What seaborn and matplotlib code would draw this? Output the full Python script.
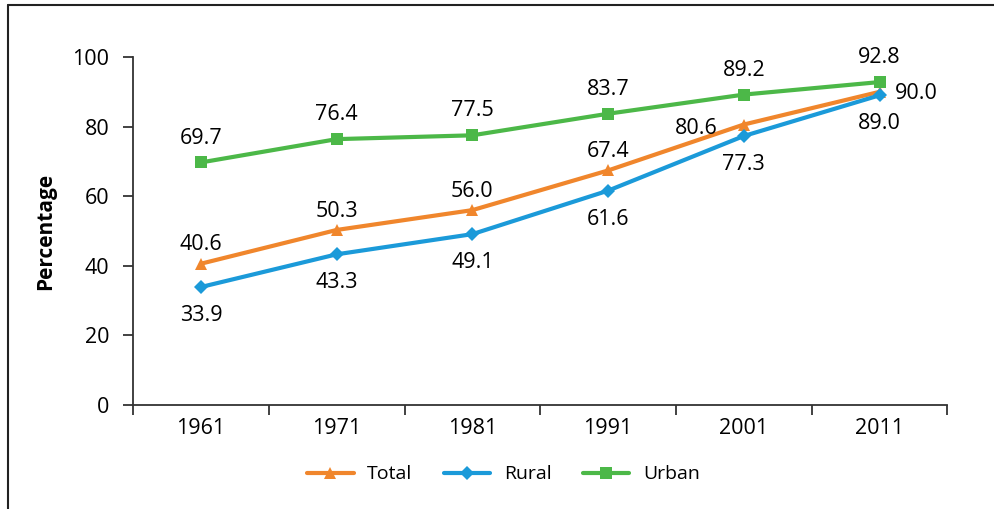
import matplotlib
matplotlib.use("Agg")
import matplotlib.pyplot as plt
import seaborn as sns
import pandas as pd
from matplotlib.lines import Line2D

# data
years = ["1961", "1971", "1981", "1991", "2001", "2011"]
total = [40.6, 50.3, 56.0, 67.4, 80.6, 90.0]
rural = [33.9, 43.3, 49.1, 61.6, 77.3, 89.0]
urban = [69.7, 76.4, 77.5, 83.7, 89.2, 92.8]

series_names = ["Total", "Rural", "Urban"]
colors = {"Total": "#F0862C", "Rural": "#1B9AD9", "Urban": "#4CB848"}
markers = {"Total": "^", "Rural": "D", "Urban": "s"}

sns.set_theme(style="white")
plt.rcParams["font.family"] = ["Open Sans", "DejaVu Sans"]
plt.rcParams["text.color"] = "black"
plt.rcParams["axes.labelcolor"] = "black"

rows = []
for name, vals in zip(series_names, [total, rural, urban]):
    for i, v in enumerate(vals):
        rows.append({"x": i, "year": years[i], "value": v, "series": name})
df = pd.DataFrame(rows)

fig = plt.figure(figsize=(9.95, 5.09), dpi=100)
ax = fig.add_axes([0.1337, 0.2043, 0.8185, 0.6837])

for name in series_names:
    sub = df[df["series"] == name]
    ms = 9 if name == "Total" else (7 if name == "Rural" else 8)
    sns.lineplot(data=sub, x="x", y="value", ax=ax, color=colors[name],
                 marker=markers[name], markersize=ms, markeredgewidth=0,
                 linewidth=3, label=name)

fs = 15.5
# value labels
for i, v in enumerate(urban):
    ax.annotate(f"{v:.1f}", (i, v), xytext=(0, 10), textcoords="offset points",
                ha="center", va="bottom", fontsize=fs)
for i, v in enumerate(rural):
    ax.annotate(f"{v:.1f}", (i, v), xytext=(0, -13), textcoords="offset points",
                ha="center", va="top", fontsize=fs)
for i, v in enumerate(total):
    if i == 4:
        ax.annotate(f"{v:.1f}", (i, v), xytext=(-34, -3), textcoords="offset points",
                    ha="center", va="center", fontsize=fs)
    elif i == 5:
        ax.annotate(f"{v:.1f}", (i, v), xytext=(11, -1), textcoords="offset points",
                    ha="left", va="center", fontsize=fs)
    else:
        ax.annotate(f"{v:.1f}", (i, v), xytext=(0, 6), textcoords="offset points",
                    ha="center", va="bottom", fontsize=fs)

ax.set_xlim(-0.5, len(years) - 0.5)
ax.set_ylim(0, 100)
ax.set_yticks(range(0, 101, 20))
ax.set_xticks(range(len(years)))
ax.set_xticklabels(years)
ax.set_xticks([i - 0.5 for i in range(len(years) + 1)], minor=True)
ax.tick_params(axis="x", which="major", length=0, pad=9, labelsize=fs,
               labelcolor="black")
ax.tick_params(axis="x", which="minor", length=7, width=1.3, color="#333333",
               direction="out", bottom=True)
ax.tick_params(axis="y", length=7, width=1.3, color="#333333", direction="out",
               left=True, pad=10, labelsize=fs, labelcolor="black")
ax.set_xlabel("")
ax.set_ylabel("Percentage", fontsize=15, fontweight="bold", labelpad=12)

for side in ["top", "right"]:
    ax.spines[side].set_visible(False)
for side in ["left", "bottom"]:
    ax.spines[side].set_color("#333333")
    ax.spines[side].set_linewidth(1.3)

# legend centred on the figure, below the axis
handles, labels = ax.get_legend_handles_labels()
ax.get_legend().remove()
fig.legend(handles, labels, loc="center", bbox_to_anchor=(0.506, 0.068), ncol=3,
           frameon=False, fontsize=14, handlelength=2.4, handletextpad=0.7,
           columnspacing=1.6)

# outer frame (left and top edges)
fig.add_artist(Line2D([0.008, 0.008], [0, 0.99], color="#222222", lw=1.5,
                      transform=fig.transFigure))
fig.add_artist(Line2D([0.008, 1.0], [0.99, 0.99], color="#222222", lw=1.5,
                      transform=fig.transFigure))

fig.savefig("out.png", dpi=100)
